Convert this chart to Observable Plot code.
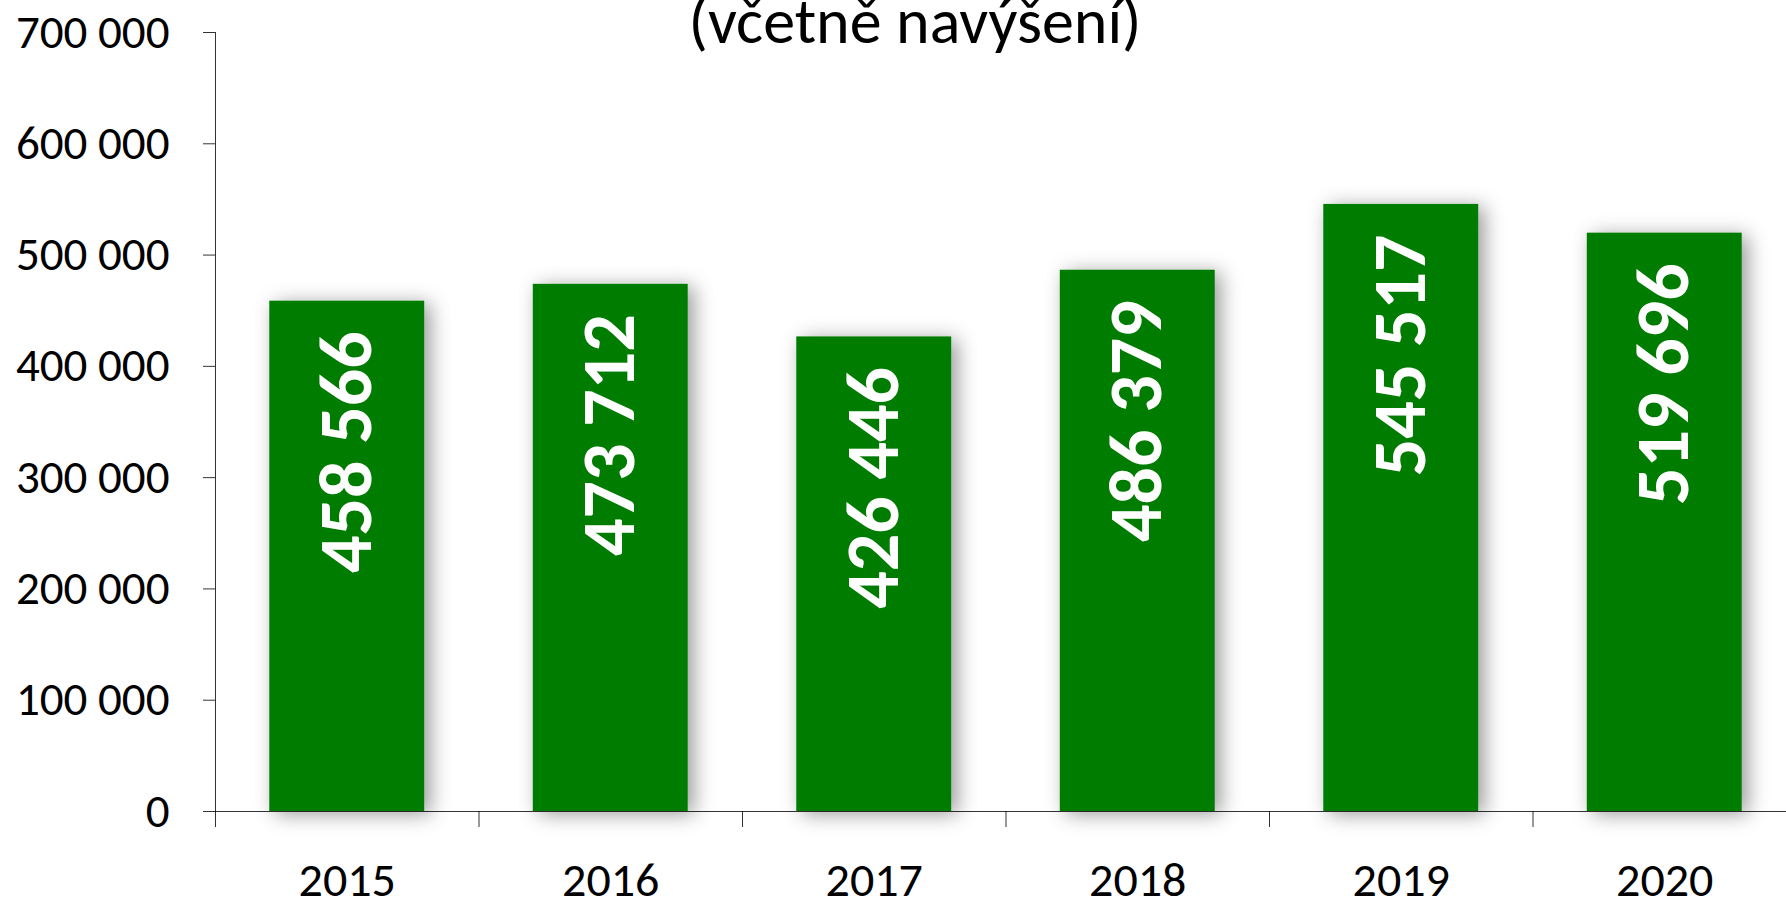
<!DOCTYPE html>
<html><head><meta charset="utf-8">
<script src="https://cdn.jsdelivr.net/npm/d3@7"></script>
<script src="https://cdn.jsdelivr.net/npm/@observablehq/plot@0.6"></script>
<style>
html,body{margin:0;padding:0;background:#fff;overflow:hidden;width:1786px;height:900px;}
#wrap{position:relative;width:1786px;height:900px;overflow:hidden;}
#title{position:absolute;left:0;width:1830px;top:-11px;text-align:center;font-family:Carlito,Lato,sans-serif;font-size:64px;line-height:64px;color:#000;white-space:nowrap;}
#chart{position:absolute;left:0;top:0;width:1810px;}
</style>
</head><body>
<div id="wrap"><div id="chart"></div><div id="title">(včetně navýšení)</div></div>
<script>
const years = ["2015","2016","2017","2018","2019","2020"];
const values = [458566, 473712, 426446, 486379, 545517, 519696];
const yTicks = [0, 100000, 200000, 300000, 400000, 500000, 600000, 700000];

const fmt = d => d3.format(",")(d).replace(/,/g, " ");
const data = years.map((y, i) => ({i, year: y, value: values[i]}));
const boundaries = d3.range(-0.5, years.length, 1);

const chart = Plot.plot({
  width: 1810, height: 900,
  marginLeft: 215, marginRight: 14, marginTop: 32, marginBottom: 89,
  style: {fontFamily: "Carlito, Lato, sans-serif", background: "transparent", overflow: "visible", maxWidth: "none"},
  x: {type: "linear", domain: [-0.5, years.length - 0.5], label: null},
  y: {domain: [0, 700000], label: null},
  marks: [
    Plot.rectY(data, {x1: d => d.i - 0.294, x2: d => d.i + 0.294, y1: 0, y2: "value", fill: "#007C00"}),
    Plot.text(data, {x: "i", y: "value", text: d => fmt(d.value), rotate: -90, textAnchor: "end", lineAnchor: "middle", dy: 30, fill: "white", fontSize: 74, fontWeight: "bold"}),
    Plot.axisY({ticks: yTicks, tickSize: 12, tickPadding: 34, tickFormat: fmt, fontSize: 47, label: null, stroke: "#000", strokeOpacity: 0.8}),
    Plot.axisX({ticks: years.map((_, i) => i), tickSize: 0, tickPadding: 50, tickFormat: i => years[i], fontSize: 48, label: null}),
    Plot.axisX({ticks: boundaries, tickSize: 16, tickFormat: () => "", label: null, stroke: "#000", strokeOpacity: 0.8}),
    Plot.ruleX([-0.5], {y1: 0, y2: 700000, stroke: "#000", strokeOpacity: 0.8}),
    Plot.ruleY([0], {stroke: "#000", strokeOpacity: 0.8})
  ]
});
document.getElementById("chart").appendChild(chart);

// drop shadow on bars
const svg = d3.select(chart);
const defs = svg.insert("defs", ":first-child");
const f = defs.append("filter").attr("id", "barShadow").attr("x", "-30%").attr("y", "-30%").attr("width", "160%").attr("height", "160%");
f.append("feDropShadow").attr("dx", 6).attr("dy", 3).attr("stdDeviation", 10).attr("flood-color", "#000").attr("flood-opacity", 0.4);
svg.select('g[aria-label="rect"]').attr("filter", "url(#barShadow)");
</script>
</body></html>
